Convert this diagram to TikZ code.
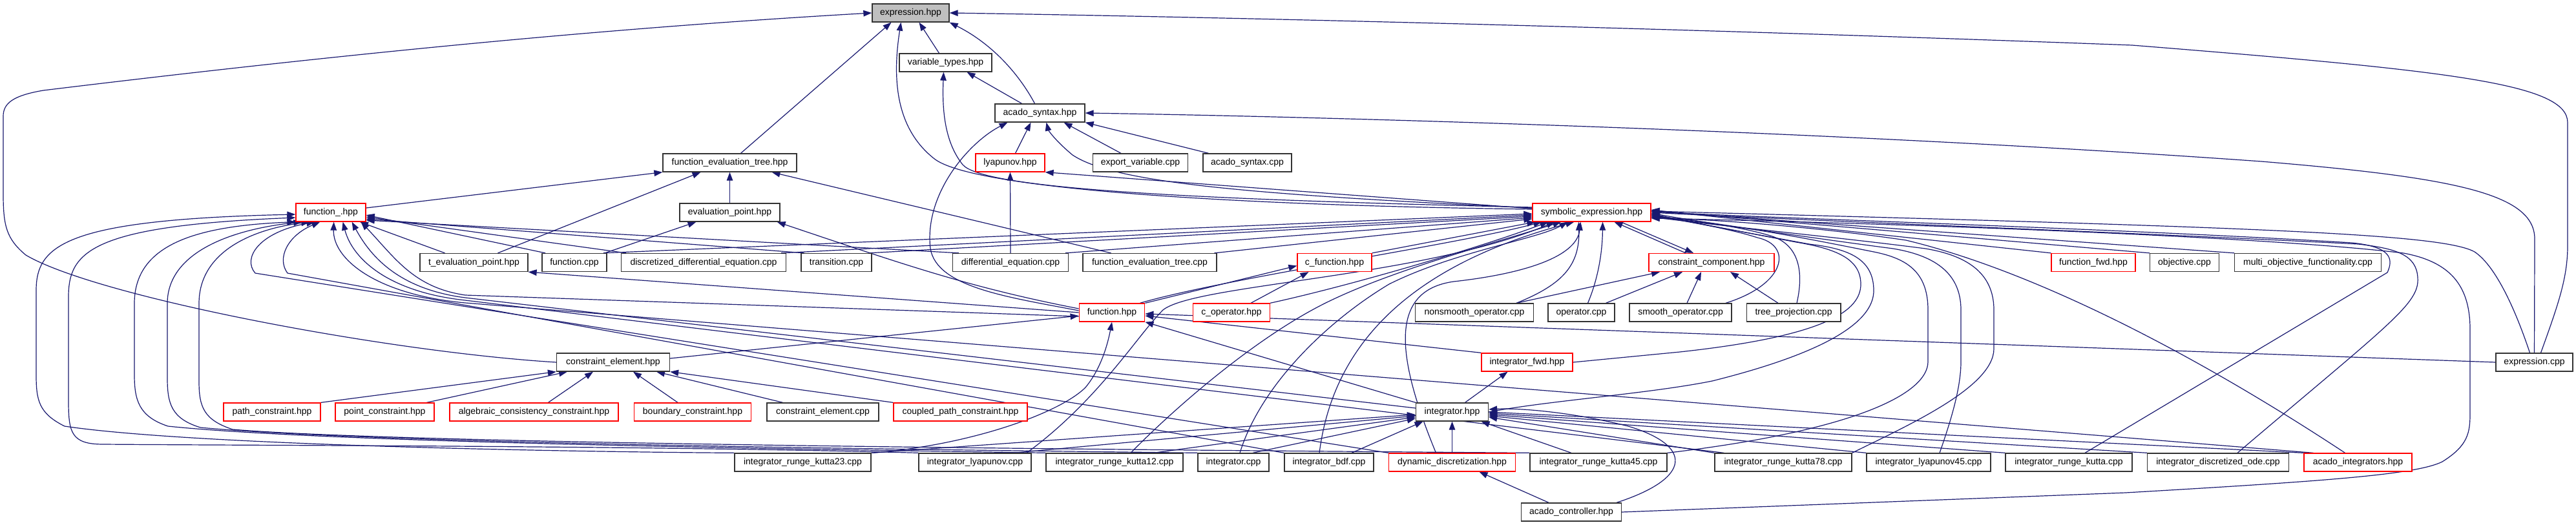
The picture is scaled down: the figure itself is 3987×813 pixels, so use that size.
\documentclass[tikz,border=0pt]{standalone}
\usepackage{fontspec}
\setmainfont{Liberation Sans}
\usetikzlibrary{arrows.meta}
\pgfdeclarelayer{bg}
\pgfsetlayers{bg,main}
\definecolor{edgec}{HTML}{191970}
\definecolor{redb}{HTML}{FF0000}
\definecolor{darkb}{HTML}{333333}
\definecolor{grayf}{HTML}{BFBFBF}
\tikzset{
  nbox/.style={draw=darkb, line width=1.3pt, fill=white, minimum height=28pt, inner sep=0pt, font=\fontsize{14}{16}\selectfont},
  rbox/.style={nbox, draw=redb},
  gbox/.style={nbox, fill=grayf},
  dep/.style={draw=edgec, line width=1.2pt, -{Triangle[length=13pt,width=9.5pt]}},
}
\begin{document}
\begin{tikzpicture}[x=1pt,y=1pt]
\useasboundingbox (0,0) rectangle (3987,-813);
% ---------- nodes
\node[gbox, minimum width=119pt] (expr) at (1409.5,-20) {expression.hpp};
\node[nbox, minimum width=143pt] (vartypes) at (1463.5,-97) {variable\_types.hpp};
\node[nbox, minimum width=139pt] (acsyn) at (1609.5,-175) {acado\_syntax.hpp};
\node[rbox, minimum width=107pt] (lyap) at (1563.5,-252) {lyapunov.hpp};
\node[nbox, minimum width=147pt] (expvar) at (1765,-252) {export\_variable.cpp};
\node[nbox, minimum width=137pt] (acsyncpp) at (1930.5,-252) {acado\_syntax.cpp};
\node[nbox, minimum width=207pt] (fet) at (1129.5,-252) {function\_evaluation\_tree.hpp};
\node[nbox, minimum width=155pt] (evp) at (1129.5,-329) {evaluation\_point.hpp};
\node[rbox, minimum width=108pt] (funcu) at (512,-329) {function\_.hpp};
\node[rbox, minimum width=183pt] (symb) at (2463.5,-329) {symbolic\_expression.hpp};
% row 4
\node[nbox, minimum width=167pt] (tevp) at (733.5,-406.5) {t\_evaluation\_point.hpp};
\node[nbox, minimum width=100pt] (funccpp) at (889,-406.5) {function.cpp};
\node[nbox, minimum width=255pt] (ddecpp) at (1089,-406.5) {discretized\_differential\_equation.cpp};
\node[nbox, minimum width=109pt] (transcpp) at (1294.5,-406.5) {transition.cpp};
\node[nbox, minimum width=178.5pt] (decpp) at (1564,-406.5) {differential\_equation.cpp};
\node[nbox, minimum width=207pt] (fetcpp) at (1779.5,-406.5) {function\_evaluation\_tree.cpp};
\node[rbox, minimum width=115pt] (cfunc) at (2065.5,-406.5) {c\_function.hpp};
\node[rbox, minimum width=194pt] (ccomp) at (2649,-406.5) {constraint\_component.hpp};
\node[rbox, minimum width=130pt] (ffwd) at (3240,-406.5) {function\_fwd.hpp};
\node[nbox, minimum width=106.5pt] (objcpp) at (3381,-406.5) {objective.cpp};
\node[nbox, minimum width=226.5pt] (multicpp) at (3572,-406.5) {multi\_objective\_functionality.cpp};
% row 5
\node[rbox, minimum width=101.5pt] (funch) at (1721,-484) {function.hpp};
\node[rbox, minimum width=118.6pt] (cop) at (1906,-484) {c\_operator.hpp};
\node[nbox, minimum width=182.7pt] (nsop) at (2282,-484) {nonsmooth\_operator.cpp};
\node[nbox, minimum width=103pt] (opcpp) at (2447.5,-484) {operator.cpp};
\node[nbox, minimum width=158pt] (smop) at (2601,-484) {smooth\_operator.cpp};
\node[nbox, minimum width=145.7pt] (treep) at (2776,-484) {tree\_projection.cpp};
% row 6
\node[nbox, minimum width=175pt] (celem) at (949,-561) {constraint\_element.hpp};
\node[rbox, minimum width=141pt] (ifwd) at (2363.5,-561) {integrator\_fwd.hpp};
\node[nbox, minimum width=119pt] (exprcpp) at (3922.5,-561) {expression.cpp};
% row 7
\node[rbox, minimum width=150pt] (pathc) at (421,-638) {path\_constraint.hpp};
\node[rbox, minimum width=153pt] (pointc) at (595.5,-638) {point\_constraint.hpp};
\node[rbox, minimum width=261pt] (algc) at (826.5,-638) {algebraic\_consistency\_constraint.hpp};
\node[rbox, minimum width=181.5pt] (bndc) at (1072,-638) {boundary\_constraint.hpp};
\node[nbox, minimum width=173pt] (celemcpp) at (1273.5,-638) {constraint\_element.cpp};
\node[rbox, minimum width=207pt] (cpathc) at (1486.5,-638) {coupled\_path\_constraint.hpp};
\node[nbox, minimum width=112pt] (integ) at (2247.5,-638) {integrator.hpp};
% row 8
\node[nbox, minimum width=211pt] (rk23) at (1242.5,-716) {integrator\_runge\_kutta23.cpp};
\node[nbox, minimum width=174pt] (ilyap) at (1509,-716) {integrator\_lyapunov.cpp};
\node[nbox, minimum width=212pt] (rk12) at (1725,-716) {integrator\_runge\_kutta12.cpp};
\node[nbox, minimum width=110pt] (icpp) at (1909,-716) {integrator.cpp};
\node[nbox, minimum width=138pt] (bdf) at (2057,-716) {integrator\_bdf.cpp};
\node[rbox, minimum width=196pt] (dyndisc) at (2247.5,-716) {dynamic\_discretization.hpp};
\node[nbox, minimum width=212pt] (rk45) at (2474,-716) {integrator\_runge\_kutta45.cpp};
\node[nbox, minimum width=212pt] (rk78) at (2760,-716) {integrator\_runge\_kutta78.cpp};
\node[nbox, minimum width=192pt] (ilyap45) at (2985,-716) {integrator\_lyapunov45.cpp};
\node[nbox, minimum width=196pt] (rk) at (3202,-716) {integrator\_runge\_kutta.cpp};
\node[nbox, minimum width=218.5pt] (idode) at (3433,-716) {integrator\_discretized\_ode.cpp};
\node[rbox, minimum width=167pt] (acint) at (3649.5,-716) {acado\_integrators.hpp};
% row 9
\node[nbox, minimum width=154.5pt] (acctrl) at (2432,-793) {acado\_controller.hpp};

\begin{pgfonlayer}{bg}
\fill[white] (0,0) rectangle (3987,-813);
% ---------- top part
\draw[dep] (celem.west) .. controls (600,-545) and (150,-460) .. (40,-395) .. controls (10,-370) and (5,-350) .. (5,-300) -- (5,-180) .. controls (5,-160) and (20,-148) .. (67,-140) .. controls (600,-75) and (1000,-40) .. (expr.west);
\draw[dep] ([xshift=17pt]fet.north) -- ([xshift=-30pt]expr.south);
\draw[dep] ([xshift=-10pt]vartypes.north) -- ([xshift=13pt]expr.south);
\draw[dep] ([xshift=-8pt]acsyn.north) .. controls (1580,-120) and (1540,-70) .. (expr.south east);
\draw[dep] ([yshift=5pt]symb.west) .. controls (1900,-318) and (1500,-292) .. (1445,-245) .. controls (1395,-205) and (1378,-140) .. ([xshift=-15pt]expr.south);
\draw[dep] ([xshift=10pt]exprcpp.north) .. controls (3960,-470) and (3974,-430) .. (3974,-380) -- (3974,-190) .. controls (3974,-130) and (3800,-110) .. (3300,-70) .. controls (2500,-40) and (1800,-25) .. (expr.east);
\draw[dep] ([xshift=-28pt]acsyn.north) -- ([xshift=33pt]vartypes.south);
\draw[dep] ([yshift=8pt]symb.west) .. controls (1800,-308) and (1520,-290) .. (1490,-255) .. controls (1462,-220) and (1458,-170) .. ([xshift=-3pt]vartypes.south);
\draw[dep] ([xshift=8pt]lyap.north) -- ([xshift=-14pt]acsyn.south);
\draw[dep] ([xshift=-30pt]expvar.north) -- ([xshift=37pt]acsyn.south);
\draw[dep] ([xshift=-60pt]acsyncpp.north) -- (acsyn.south east);
\draw[dep] ([yshift=7pt]symb.west) .. controls (1900,-300) and (1720,-280) .. (1660,-240) .. controls (1630,-215) and (1622,-200) .. ([xshift=10pt]acsyn.south);
\draw[dep] ([yshift=3pt]funch.west) .. controls (1560,-460) and (1450,-445) .. (1440,-385) .. controls (1430,-300) and (1500,-220) .. ([xshift=-50pt]acsyn.south);
\draw[dep] (exprcpp.north) -- (3923,-370) .. controls (3923,-300) and (3800,-275) .. (3500,-250) .. controls (2800,-200) and (2000,-180) .. (acsyn.east);
\draw[dep] (decpp.north) -- (lyap.south);
\draw[dep] ([yshift=6pt]symb.west) -- (lyap.south east);
% function_evaluation_tree / evaluation_point
\draw[dep] ([yshift=7pt]funcu.east) -- (fet.south west);
\draw[dep] ([xshift=37pt]tevp.north) -- ([xshift=-45pt]fet.south);
\draw[dep] (evp) -- (fet);
\draw[dep] ([xshift=-60pt]fetcpp.north) -- ([xshift=65pt]fet.south);
\draw[dep] ([xshift=47pt]funccpp.north) -- ([xshift=-52pt]evp.south);
\draw[dep] ([yshift=6pt]funch.west) .. controls (1500,-445) and (1400,-410) .. ([xshift=-5pt]evp.south east);
% function_.hpp
\draw[dep] ([xshift=-45pt]tevp.north) -- ([xshift=45pt]funcu.south);
\draw[dep] ([xshift=-45pt]funccpp.north) -- ([yshift=-4pt]funcu.east);
\draw[dep] ([xshift=-120pt]ddecpp.north) -- ([yshift=-7pt]funcu.east);
\draw[dep] ([xshift=-50pt]transcpp.north) -- ([yshift=-10pt]funcu.east);
\draw[dep] ([xshift=-80pt]decpp.north) -- ([yshift=-12pt]funcu.east);
\draw[dep] (rk23.north west) .. controls (900,-700) and (300,-690) .. (100,-660) .. controls (60,-640) and (56,-620) .. (56,-580) -- (56,-450) .. controls (56,-380) and (100,-340) .. ([yshift=-3pt]funcu.west);
\draw[dep] (ilyap.north west) .. controls (1000,-690) and (400,-690) .. (160,-688) .. controls (110,-688) and (106,-670) .. (106,-620) -- (106,-460) .. controls (106,-390) and (140,-350) .. ([yshift=-8pt]funcu.west);
\draw[dep] (rk12.north west) .. controls (1200,-695) and (500,-685) .. (260,-660) .. controls (215,-645) and (208,-620) .. (208,-580) -- (208,-470) .. controls (208,-380) and (300,-350) .. (funcu.south west);
\draw[dep] (icpp.north west) .. controls (1300,-695) and (550,-685) .. (310,-662) .. controls (265,-648) and (259,-625) .. (259,-585) -- (259,-470) .. controls (259,-390) and (360,-355) .. ([xshift=10pt]funcu.south west);
\draw[dep] (rk45.north west) .. controls (1500,-695) and (600,-685) .. (360,-665) .. controls (315,-650) and (308,-630) .. (308,-590) -- (308,-470) .. controls (308,-390) and (390,-355) .. ([xshift=22pt]funcu.south west);
\draw[dep] (dyndisc.north west) -- (395,-423) .. controls (375,-400) and (400,-360) .. ([xshift=30pt]funcu.south west);
\draw[dep] (bdf.north west) -- (445,-423) .. controls (428,-400) and (445,-365) .. ([xshift=38pt]funcu.south west);
\draw[dep] ([yshift=-6pt]funch.west) -- (720,-457) .. controls (640,-445) and (612,-400) .. ([xshift=-8pt]funcu.south east);
\draw[dep] ([yshift=6pt]integ.west) -- (720,-461) .. controls (620,-448) and (575,-400) .. ([xshift=-22pt]funcu.south east);
\draw[dep] ([xshift=15pt]rk78.north west) -- (720,-465) .. controls (600,-452) and (545,-400) .. ([xshift=-36pt]funcu.south east);
\draw[dep] ([xshift=15pt]acint.north west) -- (720,-469) .. controls (580,-456) and (515,-400) .. ([xshift=-50pt]funcu.south east);
% symbolic_expression from left
\draw[dep] ([xshift=45pt]funccpp.north) -- ([yshift=-2pt]symb.west);
\draw[dep] ([xshift=120pt]ddecpp.north) -- ([yshift=-4pt]symb.west);
\draw[dep] ([xshift=50pt]transcpp.north) -- ([yshift=-6pt]symb.west);
\draw[dep] ([xshift=85pt]decpp.north) -- ([yshift=-8pt]symb.west);
\draw[dep] ([xshift=100pt]fetcpp.north) -- ([yshift=-10pt]symb.west);
% symbolic_expression from below
\draw[dep] (cfunc.north east) -- ([xshift=5pt]symb.south west);
\draw[dep] ([xshift=-8pt]funch.north east) .. controls (1900,-430) and (2250,-380) .. ([xshift=15pt]symb.south west);
\draw[dep] (funch.north east) -- ([yshift=-5pt]cfunc.west);
\draw[dep] ([xshift=30pt]cop.north) -- ([xshift=-40pt]cfunc.south);
\draw[dep] (cop.north east) .. controls (2100,-440) and (2300,-380) .. ([xshift=25pt]symb.south west);
\draw[dep] ([xshift=80pt]ilyap.north) .. controls (1700,-620) and (1760,-520) .. (1800,-480) .. controls (1850,-440) and (2200,-430) .. ([xshift=35pt]symb.south west);
\draw[dep] ([xshift=25pt]rk12.north) .. controls (1830,-620) and (1950,-520) .. (2050,-470) .. controls (2150,-420) and (2300,-380) .. ([xshift=45pt]symb.south west);
\draw[dep] ([xshift=10pt]icpp.north) .. controls (1950,-600) and (2050,-500) .. (2150,-440) .. controls (2250,-390) and (2380,-370) .. ([xshift=55pt]symb.south west);
\draw[dep] ([xshift=-15pt]bdf.north) .. controls (2060,-560) and (2150,-420) .. ([xshift=65pt]symb.south west);
\draw[dep] ([xshift=-25pt]dyndisc.north) .. controls (2160,-550) and (2150,-450) .. (2250,-436) .. controls (2350,-425) and (2440,-400) .. ([xshift=75pt]symb.south west);
\draw[dep] ([xshift=65pt]nsop.north) .. controls (2420,-440) and (2445,-410) .. ([xshift=-20pt]symb.south);
\draw[dep] ([xshift=10pt]opcpp.north) .. controls (2470,-440) and (2480,-400) .. ([xshift=17pt]symb.south);
\draw[dep] ([xshift=65pt]nsop.north) -- ([xshift=-80pt]ccomp.south);
\draw[dep] ([xshift=38pt]opcpp.north) -- ([xshift=-45pt]ccomp.south);
\draw[dep] ([xshift=10pt]smop.north) -- ([xshift=-16pt]ccomp.south);
\draw[dep] ([xshift=-24pt]treep.north) -- ([xshift=29pt]ccomp.south);
\draw[dep] ([xshift=-40pt]ccomp.north) -- ([xshift=35pt]symb.south);
\draw[dep] ([xshift=45pt]symb.south) -- ([xshift=-28pt]ccomp.north);
% symbolic_expression from the right
\draw[dep] ([xshift=70pt]smop.north) .. controls (2765,-440) and (2775,-380) .. (2720,-368) .. controls (2680,-355) and (2620,-345) .. ([yshift=-2pt]symb.east);
\draw[dep] ([xshift=5pt]treep.north) .. controls (2790,-430) and (2790,-380) .. (2740,-365) .. controls (2690,-350) and (2620,-342) .. ([yshift=-1pt]symb.east);
\draw[dep] (ifwd.east) -- (2600,-545) .. controls (2830,-520) and (2880,-480) .. (2880,-440) .. controls (2880,-400) and (2840,-385) .. (2780,-375) -- ([yshift=-3pt]symb.east);
\draw[dep] (integ.east) .. controls (2400,-620) and (2550,-610) .. (2650,-590) .. controls (2850,-540) and (2900,-490) .. (2900,-450) .. controls (2900,-400) and (2860,-385) .. (2800,-378) -- ([yshift=-4pt]symb.east);
\draw[dep] (ffwd.north west) -- ([yshift=4pt]symb.east);
\draw[dep] (objcpp.north west) -- ([yshift=3pt]symb.east);
\draw[dep] (multicpp.north west) -- ([yshift=2pt]symb.east);
\draw[dep] (rk45.north east) .. controls (2870,-667) and (2984,-610) .. (2984,-560) -- (2984,-480) .. controls (2984,-420) and (2950,-400) .. (2900,-390) .. controls (2800,-370) and (2700,-350) .. ([yshift=-5pt]symb.east);
\draw[dep] ([xshift=17pt]ilyap45.north) .. controls (3020,-650) and (3035,-600) .. (3035,-560) -- (3035,-480) .. controls (3035,-420) and (2990,-395) .. (2930,-385) .. controls (2800,-368) and (2700,-352) .. ([yshift=-6pt]symb.east);
\draw[dep] (rk78.north east) .. controls (2950,-660) and (3086,-600) .. (3086,-540) -- (3086,-480) .. controls (3086,-420) and (3040,-395) .. (2980,-385) .. controls (2850,-368) and (2700,-354) .. ([yshift=-7pt]symb.east);
\draw[dep] ([xshift=25pt]rk.north) -- (3695,-422) .. controls (3705,-400) and (3700,-382) .. (3640,-376) .. controls (3300,-355) and (2800,-340) .. ([yshift=1pt]symb.east);
\draw[dep] ([xshift=30pt]idode.north) .. controls (3700,-500) and (3745,-470) .. (3742,-430) .. controls (3740,-395) and (3710,-385) .. (3650,-378) .. controls (3300,-360) and (2800,-342) .. ([yshift=0pt]symb.east);
\draw[dep] ([xshift=-20pt]acint.north) .. controls (3400,-550) and (3150,-420) .. (2950,-372) .. controls (2800,-350) and (2650,-340) .. ([yshift=-8pt]symb.east);
\draw[dep] (acctrl.east) -- (3290,-763) .. controls (3600,-745) and (3740,-735) .. (3780,-715) .. controls (3820,-690) and (3823,-670) .. (3823,-640) -- (3823,-510) .. controls (3823,-440) and (3790,-405) .. (3720,-392) .. controls (3500,-365) and (2900,-345) .. ([yshift=-9pt]symb.east);
\draw[dep] ([xshift=-7pt]exprcpp.north) .. controls (3890,-470) and (3860,-410) .. (3830,-390) .. controls (3780,-362) and (3500,-352) .. ([yshift=2pt]symb.east);
% constraint_element
\draw[dep] (pathc.north east) -- (celem.south west);
\draw[dep] ([xshift=65pt]pointc.north) -- ([xshift=-71pt]celem.south);
\draw[dep] ([xshift=22pt]algc.north) -- ([xshift=-31pt]celem.south);
\draw[dep] ([xshift=-23pt]bndc.north) -- ([xshift=31pt]celem.south);
\draw[dep] ([xshift=-62pt]celemcpp.north) -- ([xshift=67pt]celem.south);
\draw[dep] (cpathc.north west) -- (celem.south east);
% function.hpp
\draw[dep] ([yshift=6pt]celem.east) -- ([yshift=-5pt]funch.west);
\draw[dep] (funch.west) -- (tevp.south east);
\draw[dep] (ifwd.north west) -- ([yshift=-5pt]funch.east);
\draw[dep] (integ.north west) -- (funch.south east);
\draw[dep] (exprcpp.west) -- ([yshift=-2pt]funch.east);
\draw[dep] (rk23.north east) .. controls (1500,-690) and (1640,-640) .. (1680,-600) .. controls (1705,-570) and (1715,-530) .. (funch.south);
% integrator.hpp
\draw[dep] ([xshift=20pt]integ.north) -- ([xshift=-30pt]ifwd.south);
\draw[dep] (rk23.north east) -- ([yshift=-4pt]integ.west);
\draw[dep] ([xshift=60pt]ilyap.north) -- ([yshift=-6pt]integ.west);
\draw[dep] ([xshift=60pt]rk12.north) -- ([yshift=-8pt]integ.west);
\draw[dep] ([xshift=30pt]icpp.north) -- ([yshift=-10pt]integ.west);
\draw[dep] ([xshift=35pt]bdf.north) -- ([xshift=-45pt]integ.south);
\draw[dep] (dyndisc.north) -- (integ.south);
\draw[dep] ([xshift=-42pt]rk45.north) -- ([xshift=45pt]integ.south);
\draw[dep] (rk78.north west) -- ([yshift=-8pt]integ.east);
\draw[dep] (ilyap45.north west) -- ([yshift=-6pt]integ.east);
\draw[dep] (rk.north west) -- ([yshift=-4pt]integ.east);
\draw[dep] (idode.north west) -- ([yshift=-2pt]integ.east);
\draw[dep] (acint.north west) -- ([yshift=0pt]integ.east);
\draw[dep] ([xshift=70pt]acctrl.north) .. controls (2620,-740) and (2620,-690) .. (2520,-660) .. controls (2420,-635) and (2340,-632) .. ([yshift=4pt]integ.east);
\draw[dep] ([xshift=-35pt]acctrl.north) -- ([xshift=42pt]dyndisc.south);
\end{pgfonlayer}
\end{tikzpicture}
\end{document}
